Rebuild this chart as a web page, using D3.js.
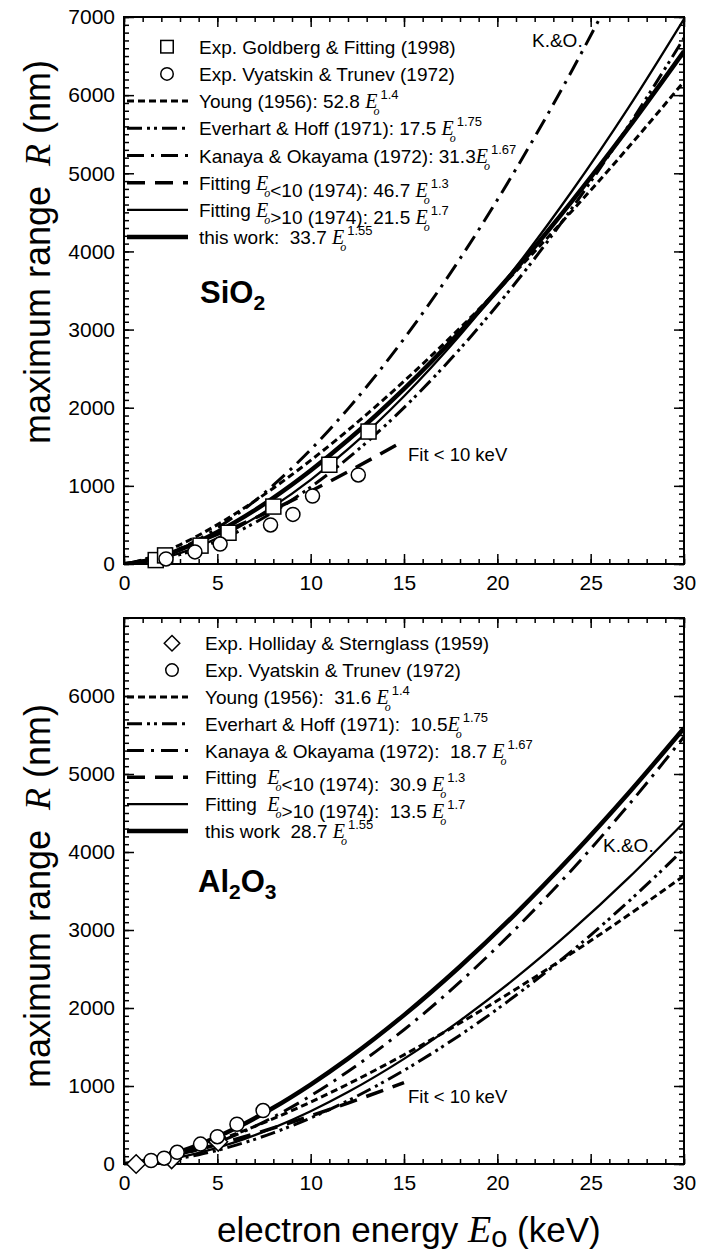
<!DOCTYPE html>
<html><head><meta charset="utf-8">
<script src="https://cdn.jsdelivr.net/npm/d3@7"></script>
<style>
body{margin:0;background:#fff}
svg text{font-family:"Liberation Sans",Arial,Helvetica,sans-serif;fill:#000;white-space:pre}
</style>
</head><body>
<svg id="chart" width="704" height="1254"></svg>
<script>
// ---------- data ----------
const energies = [0,1,2,3,4,6,8,10,12,15,18,21,24,27,30];
const fitLowEnergies = [0,1,2,3,4,6,8,10,12,15];

// SiO2 panel
const sio2Young     = [0,52.8,139.3,245.8,367.7,648.7,970.4,1326.3,1711.8,2339.0,3019.6,3747.2,4518.1,5326.5,6173.9];
const sio2Everhart  = [0,17.5,58.9,119.7,198.0,402.6,665.9,984.0,1354.2,2001.1,2753.5,3605.0,4553.5,5598.0,6730.5];
const sio2Kanaya    = [0,31.3,99.6,196.0,316.9,623.8,1008.5,1463.9,1985.0,2881.8,3906.9,5055.0,6316.0,7690.0,9168.0];
const sio2FitLow    = [0,46.7,115.0,194.8,283.1,479.6,697.2,931.7,1181.0,1578.5];
const sio2FitHigh   = [0,21.5,69.9,139.2,227.0,452.1,737.5,1077.6,1469.1,2146.8,2926.8,3803.4,4773.0,5830.8,6974.6];
const sio2ThisWork  = [0,33.7,98.7,185.0,288.9,541.6,845.9,1195.7,1585.9,2241.4,2973.0,3774.4,4643.9,5574.0,6561.4];
const sio2GoldbergE = [1.7,2.2,4.1,5.6,8.0,11.0,13.1];
const sio2GoldbergR = [50,110,235,400,735,1270,1695];
const sio2VyatskinE = [2.25,3.8,5.15,7.85,9.05,10.1,12.55];
const sio2VyatskinR = [65,155,255,500,635,870,1140];

// Al2O3 panel
const al2o3Young    = [0,31.6,83.4,147.1,220.1,388.2,580.8,793.8,1024.5,1399.9,1807.2,2242.7,2704.0,3187.8,3695.0];
const al2o3Everhart = [0,10.5,35.3,71.8,118.8,241.6,399.5,590.4,812.5,1200.7,1652.1,2163.0,2732.1,3359.0,4038.3];
const al2o3Kanaya   = [0,18.7,59.5,117.1,189.4,372.7,602.5,874.6,1186.0,1721.7,2334.1,3020.0,3773.7,4594.6,5477.2];
const al2o3FitLow   = [0,30.9,76.1,128.9,187.3,317.3,461.3,616.5,781.5,1044.4];
const al2o3FitHigh  = [0,13.5,43.9,87.4,142.5,283.9,463.1,676.6,922.5,1348.0,1837.8,2388.2,2997.0,3661.2,4379.4];
const al2o3ThisWork = [0,28.7,84.0,157.5,246.1,461.2,720.4,1018.3,1350.6,1908.8,2531.9,3214.4,3954.9,4747.0,5587.9];
const al2o3HollidayE = [0.65,2.55,5.05];
const al2o3HollidayR = [0,60,285];
const al2o3VyatskinE = [1.45,2.15,2.85,4.1,5.0,6.05,7.45];
const al2o3VyatskinR = [45,75,150,255,350,510,685];

// ticks
const xMajorTicks = [0,5,10,15,20,25,30];
const xMinorTicks = d3.range(0,31,1);
const yMajorTicksTop = [0,1000,2000,3000,4000,5000,6000,7000];
const yMajorTicksBottom = [0,1000,2000,3000,4000,5000,6000];
const yMinorTicks = d3.range(0,7001,100);

// legend labels
const sio2Legend = [
  "Exp. Goldberg & Fitting (1998)",
  "Exp. Vyatskin & Trunev (1972)",
  "Young (1956): 52.8 E_o^{1.4}",
  "Everhart & Hoff (1971): 17.5 E_o^{1.75}",
  "Kanaya & Okayama (1972): 31.3E_o^{1.67}",
  "Fitting E_o<10 (1974): 46.7 E_o^{1.3}",
  "Fitting E_o>10 (1974): 21.5 E_o^{1.7}",
  "this work:  33.7 E_o^{1.55}"
];
const al2o3Legend = [
  "Exp. Holliday & Sternglass (1959)",
  "Exp. Vyatskin & Trunev (1972)",
  "Young (1956):  31.6 E_o^{1.4}",
  "Everhart & Hoff (1971):  10.5E_o^{1.75}",
  "Kanaya & Okayama (1972):  18.7 E_o^{1.67}",
  "Fitting  E_o<10 (1974):  30.9 E_o^{1.3}",
  "Fitting  E_o>10 (1974):  13.5 E_o^{1.7}",
  "this work  28.7 E_o^{1.55}"
];

// ---------- styles ----------
const styles = {
  young:    {dash:"7,4",          width:3},
  everhart: {dash:"15,5,3,4,3,5", width:3},
  kanaya:   {dash:"17,7,3,7",     width:3},
  fitLow:   {dash:"18,10",        width:3.5},
  fitHigh:  {dash:null,           width:2.3},
  thisWork: {dash:null,           width:4.5}
};

const svg = d3.select("#chart");
const X0 = 124, X1 = 684;
const SERIF = "'Liberation Serif','Times New Roman',serif";

function richText(sel, str, opts){
  const parts = str.split(/(E_o\^\{[^}]*\}|E_o)/).filter(s=>s.length);
  parts.forEach(p=>{
    if (p.startsWith("E_o")){
      const m = p.match(/\^\{([^}]*)\}/);
      sel.append("tspan").attr("font-family",SERIF).attr("font-style","italic").attr("font-size",opts.eSize).text("E");
      sel.append("tspan").attr("font-family",SERIF).attr("font-style","italic").attr("font-size",opts.subSize)
        .attr("dx",-4).attr("dy",7).text("o");
      if (m){
        sel.append("tspan").attr("font-size",opts.supSize).attr("dx",1).attr("dy",-16).text(m[1]);
        sel.append("tspan").attr("dy",9).text("");
      } else {
        sel.append("tspan").attr("dy",-7).text("");
      }
    } else {
      sel.append("tspan").text(p);
    }
  });
}

function drawMarkers(sel, pts, shape, size){
  pts.forEach(([px,py])=>{
    if (shape==="square"){
      sel.append("rect").attr("x",px-size/2).attr("y",py-size/2).attr("width",size).attr("height",size)
        .attr("fill","#fff").attr("stroke","#000").attr("stroke-width",1.5);
    } else if (shape==="circle"){
      sel.append("circle").attr("cx",px).attr("cy",py).attr("r",size/2)
        .attr("fill","#fff").attr("stroke","#000").attr("stroke-width",1.5);
    } else {
      const h = size*0.62;
      sel.append("path").attr("d",`M${px},${py-h}L${px+h},${py}L${px},${py+h}L${px-h},${py}Z`)
        .attr("fill","#fff").attr("stroke","#000").attr("stroke-width",1.5);
    }
  });
}

function panel(cfg){
  const x = d3.scaleLinear().domain([0,30]).range([X0,X1]);
  const y = d3.scaleLinear().domain([0,7000]).range([cfg.bottom,cfg.top]);
  const g = svg.append("g");
  const clipId = "clip"+cfg.id;
  svg.append("clipPath").attr("id",clipId).append("rect")
    .attr("x",X0).attr("y",cfg.top).attr("width",X1-X0).attr("height",cfg.bottom-cfg.top);

  const mk = (axis, tr) => { const a = g.append("g").attr("transform",tr).call(axis); a.select(".domain").remove(); a.selectAll("line").attr("stroke","#000").attr("stroke-width",1.5); return a; };
  mk(d3.axisBottom(x).tickValues(xMinorTicks).tickSize(-5).tickFormat(""), `translate(0,${cfg.bottom})`);
  const xb = mk(d3.axisBottom(x).tickValues(xMajorTicks).tickSize(-10).tickPadding(11).tickFormat(d3.format("d")), `translate(0,${cfg.bottom})`);
  xb.selectAll("text").attr("font-size",21).attr("font-family","'Liberation Sans',Arial,sans-serif");
  mk(d3.axisTop(x).tickValues(xMinorTicks).tickSize(-5).tickFormat(""), `translate(0,${cfg.top})`);
  mk(d3.axisTop(x).tickValues(xMajorTicks).tickSize(-10).tickFormat(""), `translate(0,${cfg.top})`);
  mk(d3.axisLeft(y).tickValues(yMinorTicks).tickSize(-5).tickFormat(""), `translate(${X0},0)`);
  const yl = mk(d3.axisLeft(y).tickValues(cfg.yTicks).tickSize(-10).tickPadding(9).tickFormat(d3.format("d")), `translate(${X0},0)`);
  yl.selectAll("text").attr("font-size",21).attr("font-family","'Liberation Sans',Arial,sans-serif");
  mk(d3.axisRight(y).tickValues(yMinorTicks).tickSize(-5).tickFormat(""), `translate(${X1},0)`);
  mk(d3.axisRight(y).tickValues(yMajorTicksTop).tickSize(-10).tickFormat(""), `translate(${X1},0)`);

  // curves
  const line = d3.line().x(d=>x(d[0])).y(d=>y(d[1])).curve(d3.curveMonotoneX);
  const cg = g.append("g").attr("clip-path",`url(#${clipId})`);
  cfg.series.forEach(s=>{
    const pts = s.values.map((v,i)=>[s.e[i],v]);
    cg.append("path").attr("d",line(pts)).attr("fill","none").attr("stroke","#000")
      .attr("stroke-width",styles[s.style].width)
      .attr("stroke-dasharray",styles[s.style].dash);
  });

  // frame
  g.append("rect").attr("x",X0).attr("y",cfg.top).attr("width",X1-X0).attr("height",cfg.bottom-cfg.top)
    .attr("fill","none").attr("stroke","#000").attr("stroke-width",2);

  // markers
  cfg.markers.forEach(m=>{
    const pts = m.e.map((e,i)=>[x(e),y(m.r[i])]);
    drawMarkers(g, pts, m.shape, m.size);
  });

  // legend
  const lg = g.append("g");
  cfg.legend.forEach((lab,i)=>{
    const cy = cfg.legY + i*cfg.legStep;
    if (i<2){
      drawMarkers(lg, [[cfg.legSymX, cy]], cfg.legShapes[i], 12.5);
    } else {
      const st = styles[cfg.legStyles[i-2]];
      lg.append("line").attr("x1",127).attr("x2",188).attr("y1",cy).attr("y2",cy)
        .attr("stroke","#000").attr("stroke-width",st.width).attr("stroke-dasharray",st.dash);
    }
    const t = lg.append("text").attr("x",cfg.legTextX).attr("y",cy+7).attr("font-size",19);
    richText(t, lab, {eSize:20, subSize:12, supSize:13});
  });

  // annotations
  cfg.notes.forEach(n=>{
    g.append("text").attr("x",n.x).attr("y",n.y).attr("font-size",n.size).text(n.text);
  });

  // material label
  const ml = g.append("text").attr("x",cfg.mat.x).attr("y",cfg.mat.y).attr("font-size",31).attr("font-weight","bold");
  cfg.mat.parts.forEach(p=>{
    if (p.sub) ml.append("tspan").attr("font-size",21).attr("dy",7).text(p.t);
    else ml.append("tspan").attr("dy",p.after? -7:0).text(p.t);
  });

  // y title
  const yt = g.append("text").attr("transform",`translate(50,${cfg.yTitleY}) rotate(-90)`)
    .attr("text-anchor","middle").attr("font-size",36);
  yt.append("tspan").text("maximum range  ");
  yt.append("tspan").attr("font-family",SERIF).attr("font-style","italic").text("R");
  yt.append("tspan").text(" (nm)");
  return {x,y};
}

const legStyles = ["young","everhart","kanaya","fitLow","fitHigh","thisWork"];

panel({
  id:"top", top:17, bottom:564, yTicks:yMajorTicksTop,
  series:[
    {e:energies, values:sio2Young, style:"young"},
    {e:energies, values:sio2Everhart, style:"everhart"},
    {e:energies, values:sio2Kanaya, style:"kanaya"},
    {e:fitLowEnergies, values:sio2FitLow, style:"fitLow"},
    {e:energies, values:sio2FitHigh, style:"fitHigh"},
    {e:energies, values:sio2ThisWork, style:"thisWork"}
  ],
  markers:[
    {e:sio2GoldbergE, r:sio2GoldbergR, shape:"square", size:15},
    {e:sio2VyatskinE, r:sio2VyatskinR, shape:"circle", size:14}
  ],
  legend:sio2Legend, legShapes:["square","circle"], legStyles,
  legY:46.7, legStep:27.2, legSymX:167, legTextX:199,
  notes:[{x:532,y:47,size:19,text:"K.&O."},{x:408,y:461,size:18.5,text:"Fit < 10 keV"}],
  mat:{x:200,y:303,parts:[{t:"SiO"},{t:"2",sub:true}]},
  yTitleY:252
});

panel({
  id:"bottom", top:618, bottom:1164, yTicks:yMajorTicksBottom,
  series:[
    {e:energies, values:al2o3Young, style:"young"},
    {e:energies, values:al2o3Everhart, style:"everhart"},
    {e:energies, values:al2o3Kanaya, style:"kanaya"},
    {e:fitLowEnergies, values:al2o3FitLow, style:"fitLow"},
    {e:energies, values:al2o3FitHigh, style:"fitHigh"},
    {e:energies, values:al2o3ThisWork, style:"thisWork"}
  ],
  markers:[
    {e:al2o3HollidayE, r:al2o3HollidayR, shape:"diamond", size:15},
    {e:al2o3VyatskinE, r:al2o3VyatskinR, shape:"circle", size:14}
  ],
  legend:al2o3Legend, legShapes:["diamond","circle"], legStyles,
  legY:643.3, legStep:26.8, legSymX:172, legTextX:205,
  notes:[{x:603,y:852,size:19,text:"K.&O."},{x:408,y:1103,size:18.5,text:"Fit < 10 keV"}],
  mat:{x:198,y:892,parts:[{t:"Al"},{t:"2",sub:true},{t:"O",after:true},{t:"3",sub:true}]},
  yTitleY:896
});

// x title
const xt = svg.append("text").attr("x",217).attr("y",1242).attr("font-size",35);
xt.append("tspan").text("electron energy ");
xt.append("tspan").attr("font-family",SERIF).attr("font-style","italic").attr("font-size",38).text("E");
xt.append("tspan").attr("font-size",29).attr("dy",5).text("o");
xt.append("tspan").attr("dy",-5).text(" (keV)");
</script>
</body></html>
